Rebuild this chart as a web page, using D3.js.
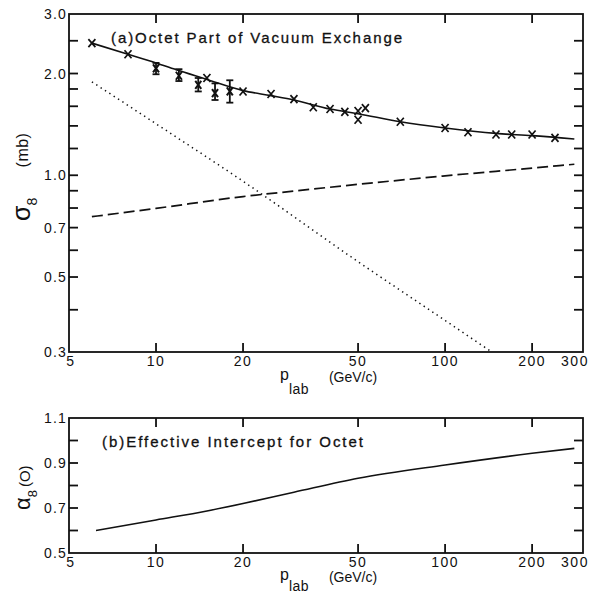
<!DOCTYPE html>
<html>
<head>
<meta charset="utf-8">
<script src="https://cdn.jsdelivr.net/npm/d3@7"></script>
<style>
  body { margin: 0; background: #fff; }
  svg { display: block; }
  text { font-family: "Liberation Sans", Arial, sans-serif; fill: #111; }
</style>
</head>
<body>
<svg id="chart" width="601" height="596"></svg>
<script>
// ---------- data ----------
const xTickValues = [5, 10, 20, 50, 100, 200, 300];
const xTickLabels = ["5", "10", "20", "50", "100", "200", "300"];

// panel (a)
const yTicksA = [0.3, 0.4, 0.5, 0.6, 0.7, 0.8, 0.9, 1.0, 1.2, 1.4, 1.6, 1.8, 2.0, 2.5, 3.0];
const yLabelsA = [0.3, 0.5, 0.7, 1.0, 2.0, 3.0];
const fitCurve = [[6,2.46],[8,2.28],[10,2.15],[12,2.04],[15,1.92],[20,1.78],[25,1.72],[30,1.67],[40,1.57],[50,1.52],[70,1.44],[100,1.38],[150,1.33],[200,1.31],[280,1.28]];
const dashedCurve = [[6,0.754],[10,0.798],[20,0.865],[30,0.898],[50,0.940],[100,0.996],[200,1.05],[280,1.078]];
const dottedCurve = [[6,1.89],[10,1.42],[20,0.96],[50,0.555],[100,0.372],[145,0.30]];
const crossPoints = [[6,2.46],[8,2.28],[15,1.94],[20,1.77],[25,1.74],[30,1.68],[35,1.59],[40,1.57],[45,1.54],[50,1.55],[50,1.46],[53,1.58],[70,1.44],[100,1.38],[120,1.34],[150,1.32],[170,1.32],[200,1.32],[240,1.29]];
const errorPoints = [[10,2.07,1.99,2.15],[12,1.97,1.90,2.06],[14,1.85,1.77,1.94],[16,1.75,1.67,1.87],[18,1.77,1.64,1.91]];

// panel (b)
const yTicksB = [0.5, 0.6, 0.7, 0.8, 0.9, 1.0, 1.1];
const yLabelsB = [0.5, 0.7, 0.9, 1.1];
const interceptCurve = [[6.2,0.60],[10,0.647],[15,0.687],[20,0.72],[30,0.77],[50,0.832],[100,0.891],[200,0.943],[280,0.965]];

// ---------- layout ----------
const svg = d3.select("#chart");
const L = 69, R = 583;
const A = {top: 14, bottom: 352};
const B = {top: 418, bottom: 553};

const x = d3.scaleLog().domain([5, 300]).range([L, R]);
const yA = d3.scaleLog().domain([0.3, 3.0]).range([A.bottom, A.top]);
const yB = d3.scaleLinear().domain([0.5, 1.1]).range([B.bottom, B.top]);

const TL = 9;
const fmt = d3.format(".1f");

function frame(y, P, yTicks, yLabels, gevY, pY, subDy) {
  const g = svg.append("g");
  g.append("rect").attr("x", L).attr("y", P.top).attr("width", R - L).attr("height", P.bottom - P.top)
    .attr("fill", "none").attr("stroke", "#111").attr("stroke-width", 1.8);
  const inner = xTickValues.filter(v => v !== 5 && v !== 300);
  inner.forEach(v => {
    g.append("line").attr("x1", x(v)).attr("x2", x(v)).attr("y1", P.bottom).attr("y2", P.bottom - TL)
      .attr("stroke", "#111").attr("stroke-width", 1.8);
    g.append("line").attr("x1", x(v)).attr("x2", x(v)).attr("y1", P.top).attr("y2", P.top + TL)
      .attr("stroke", "#111").attr("stroke-width", 1.8);
  });
  yTicks.forEach(v => {
    if (Math.abs(v - y.domain()[0]) < 1e-9 || Math.abs(v - y.domain()[1]) < 1e-9) return;
    g.append("line").attr("x1", L).attr("x2", L + TL).attr("y1", y(v)).attr("y2", y(v))
      .attr("stroke", "#111").attr("stroke-width", 1.8);
    g.append("line").attr("x1", R).attr("x2", R - TL).attr("y1", y(v)).attr("y2", y(v))
      .attr("stroke", "#111").attr("stroke-width", 1.8);
  });
  yLabels.forEach(v => {
    g.append("text").attr("x", L - 2).attr("y", y(v)).attr("dy", "0.36em")
      .attr("text-anchor", "end").attr("font-size", 14).attr("letter-spacing", 1.2).text(fmt(v));
  });
  xTickValues.forEach((v, i) => {
    let dx = 0;
    if (v === 5) dx = 2;
    if (v === 300) dx = -8;
    g.append("text").attr("x", x(v) + dx).attr("y", P.bottom + 9).attr("dy", "0.36em")
      .attr("text-anchor", "middle").attr("font-size", 14).attr("letter-spacing", 1.5).text(xTickLabels[i]);
  });
  g.append("text").attr("x", 353).attr("y", gevY).attr("text-anchor", "middle")
    .attr("font-size", 14).text("(GeV/c)");
  const pt = g.append("text").attr("x", 280).attr("y", pY).attr("font-size", 16);
  pt.append("tspan").text("p");
  pt.append("tspan").attr("dy", subDy).attr("font-size", 14).attr("letter-spacing", 0.5).text("lab");
  return g;
}

frame(yA, A, yTicksA, yLabelsA, 382, 380, 14);
frame(yB, B, yTicksB, yLabelsB, 582, 580, 11);

// ---------- panel (a) marks ----------
const lineA = d3.line().x(d => x(d[0])).y(d => yA(d[1])).curve(d3.curveMonotoneX);
svg.append("path").datum(fitCurve).attr("d", lineA).attr("fill", "none").attr("stroke", "#111").attr("stroke-width", 1.6);
svg.append("path").datum(dashedCurve).attr("d", lineA).attr("fill", "none").attr("stroke", "#111")
  .attr("stroke-width", 1.7).attr("stroke-dasharray", "11,5");
svg.append("path").datum(dottedCurve).attr("d", lineA).attr("fill", "none").attr("stroke", "#111")
  .attr("stroke-width", 1.5).attr("stroke-dasharray", "1.4,3.8");

const cross = "M-3.5,-4L3.5,4M-3.5,4L3.5,-4";
svg.append("g").selectAll("path").data(crossPoints).join("path")
  .attr("transform", d => `translate(${x(d[0])},${yA(d[1])})`)
  .attr("d", cross).attr("fill", "none").attr("stroke", "#111").attr("stroke-width", 1.7);

const eg = svg.append("g").attr("stroke", "#111").attr("fill", "none");
errorPoints.forEach(d => {
  const cx = x(d[0]);
  eg.append("line").attr("x1", cx).attr("x2", cx).attr("y1", yA(d[2])).attr("y2", yA(d[3])).attr("stroke-width", 1.8);
  eg.append("line").attr("x1", cx - 3.5).attr("x2", cx + 3.5).attr("y1", yA(d[2])).attr("y2", yA(d[2])).attr("stroke-width", 1.8);
  eg.append("line").attr("x1", cx - 3.5).attr("x2", cx + 3.5).attr("y1", yA(d[3])).attr("y2", yA(d[3])).attr("stroke-width", 1.8);
  eg.append("path").attr("transform", `translate(${cx},${yA(d[1])})`).attr("d", "M-3,-4L3,4M-3,4L3,-4").attr("stroke-width", 2);
});

// title (a)
svg.append("text").attr("x", 111).attr("y", 43).attr("font-size", 15).attr("stroke", "#111").attr("stroke-width", 0.3)
  .attr("textLength", 291).attr("lengthAdjust", "spacing").text("(a)Octet Part of Vacuum Exchange");

// y title (a)
svg.append("text").attr("transform", "translate(28,150) rotate(-90)").attr("text-anchor", "middle")
  .attr("font-size", 16).attr("letter-spacing", 0.5).text("(mb)");
const sa = svg.append("text").attr("transform", "translate(30,221) rotate(-90)").attr("font-size", 25);
sa.append("tspan").text("σ");
sa.append("tspan").attr("dy", 7).attr("font-size", 14).text("8");

// ---------- panel (b) marks ----------
const lineB = d3.line().x(d => x(d[0])).y(d => yB(d[1])).curve(d3.curveMonotoneX);
svg.append("path").datum(interceptCurve).attr("d", lineB).attr("fill", "none").attr("stroke", "#111").attr("stroke-width", 1.6);

svg.append("text").attr("x", 102).attr("y", 447).attr("font-size", 15).attr("stroke", "#111").attr("stroke-width", 0.3)
  .attr("textLength", 261).attr("lengthAdjust", "spacing").text("(b)Effective Intercept for Octet");

const tb = svg.append("text").attr("transform", "translate(30,510) rotate(-90)").attr("font-size", 22);
tb.append("tspan").text("α");
tb.append("tspan").attr("dy", 7).attr("font-size", 13).text("8");
tb.append("tspan").attr("dy", -7).attr("dx", 3).attr("font-size", 15).text("(O)");
</script>
</body>
</html>
